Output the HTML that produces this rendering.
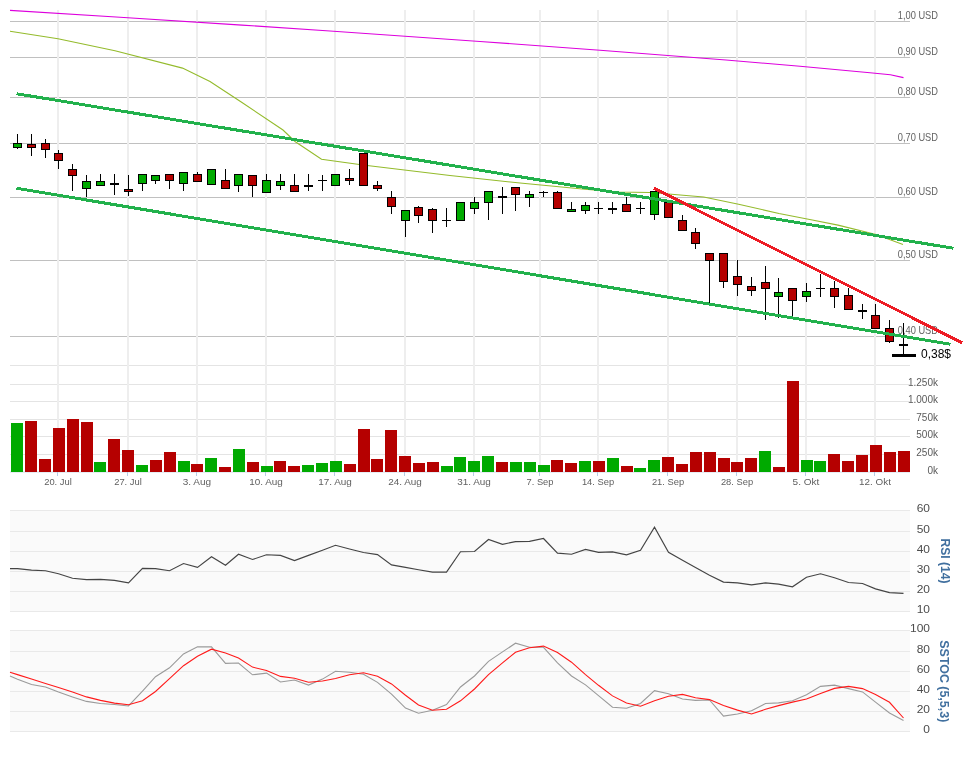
<!DOCTYPE html>
<html lang="de"><head><meta charset="utf-8"><title>Chart</title>
<style>html,body{margin:0;padding:0;background:#fff}body{width:968px;height:765px;overflow:hidden}svg{display:block}text{font-family:"Liberation Sans",Arial,sans-serif}</style></head><body>
<svg width="968" height="765" viewBox="0 0 968 765">
<rect width="968" height="765" fill="#fff"/>
<rect x="10" y="510" width="900" height="102" fill="#fafafa"/>
<rect x="10" y="630" width="900" height="102" fill="#fafafa"/>
<g stroke="#c0c0c0" stroke-width="1" shape-rendering="crispEdges">
<line x1="10" x2="910" y1="21.5" y2="21.5"/>
<line x1="10" x2="910" y1="57.5" y2="57.5"/>
<line x1="10" x2="910" y1="97.5" y2="97.5"/>
<line x1="10" x2="910" y1="143.5" y2="143.5"/>
<line x1="10" x2="910" y1="197.5" y2="197.5"/>
<line x1="10" x2="910" y1="260.5" y2="260.5"/>
<line x1="10" x2="910" y1="336.5" y2="336.5"/>
</g>
<g stroke="#e4e4e4" stroke-width="1" shape-rendering="crispEdges">
<line x1="10" x2="910" y1="365.5" y2="365.5"/>
<line x1="10" x2="910" y1="384.5" y2="384.5"/>
<line x1="10" x2="910" y1="401.5" y2="401.5"/>
<line x1="10" x2="910" y1="419.5" y2="419.5"/>
<line x1="10" x2="910" y1="436.5" y2="436.5"/>
<line x1="10" x2="910" y1="454.5" y2="454.5"/>
</g>
<g stroke="#e9e9e9" stroke-width="1" shape-rendering="crispEdges">
<line x1="10" x2="910" y1="510.5" y2="510.5"/>
<line x1="10" x2="910" y1="531.5" y2="531.5"/>
<line x1="10" x2="910" y1="551.5" y2="551.5"/>
<line x1="10" x2="910" y1="571.5" y2="571.5"/>
<line x1="10" x2="910" y1="591.5" y2="591.5"/>
<line x1="10" x2="910" y1="611.5" y2="611.5"/>
<line x1="10" x2="910" y1="630.5" y2="630.5"/>
<line x1="10" x2="910" y1="651.5" y2="651.5"/>
<line x1="10" x2="910" y1="671.5" y2="671.5"/>
<line x1="10" x2="910" y1="691.5" y2="691.5"/>
<line x1="10" x2="910" y1="711.5" y2="711.5"/>
<line x1="10" x2="910" y1="731.5" y2="731.5"/>
</g>
<g fill="#eeeeee">
<rect x="57" y="10" width="2" height="462"/>
<rect x="127" y="10" width="2" height="462"/>
<rect x="196" y="10" width="2" height="462"/>
<rect x="265" y="10" width="2" height="462"/>
<rect x="334" y="10" width="2" height="462"/>
<rect x="404" y="10" width="2" height="462"/>
<rect x="473" y="10" width="2" height="462"/>
<rect x="539" y="10" width="2" height="462"/>
<rect x="597" y="10" width="2" height="462"/>
<rect x="667" y="10" width="2" height="462"/>
<rect x="736" y="10" width="2" height="462"/>
<rect x="805" y="10" width="2" height="462"/>
<rect x="874" y="10" width="2" height="462"/>
</g>
<line x1="10" x2="910" y1="472" y2="472" stroke="#c0d0e0" stroke-width="1" opacity="0.8"/>
<g stroke="#b4cbe6" stroke-width="1">
<line x1="57.5" x2="57.5" y1="472" y2="476"/>
<line x1="127.5" x2="127.5" y1="472" y2="476"/>
<line x1="196.5" x2="196.5" y1="472" y2="476"/>
<line x1="265.5" x2="265.5" y1="472" y2="476"/>
<line x1="334.5" x2="334.5" y1="472" y2="476"/>
<line x1="404.5" x2="404.5" y1="472" y2="476"/>
<line x1="473.5" x2="473.5" y1="472" y2="476"/>
<line x1="539.5" x2="539.5" y1="472" y2="476"/>
<line x1="597.5" x2="597.5" y1="472" y2="476"/>
<line x1="667.5" x2="667.5" y1="472" y2="476"/>
<line x1="736.5" x2="736.5" y1="472" y2="476"/>
<line x1="805.5" x2="805.5" y1="472" y2="476"/>
<line x1="874.5" x2="874.5" y1="472" y2="476"/>
</g>
<g font-size="10.3" fill="#626262" text-anchor="end">
<text x="938" y="18.7" textLength="40.2" lengthAdjust="spacingAndGlyphs">1,00 USD</text>
<text x="938" y="54.7" textLength="40.2" lengthAdjust="spacingAndGlyphs">0,90 USD</text>
<text x="938" y="94.7" textLength="40.2" lengthAdjust="spacingAndGlyphs">0,80 USD</text>
<text x="938" y="140.7" textLength="40.2" lengthAdjust="spacingAndGlyphs">0,70 USD</text>
<text x="938" y="194.7" textLength="40.2" lengthAdjust="spacingAndGlyphs">0,60 USD</text>
<text x="938" y="257.7" textLength="40.2" lengthAdjust="spacingAndGlyphs">0,50 USD</text>
<text x="938" y="333.7" textLength="40.2" lengthAdjust="spacingAndGlyphs">0,40 USD</text>
</g>
<rect x="11" y="423" width="12" height="49" fill="#00aa00"/>
<rect x="25" y="421" width="12" height="51" fill="#b50000"/>
<rect x="39" y="459" width="12" height="13" fill="#b50000"/>
<rect x="53" y="428" width="12" height="44" fill="#b50000"/>
<rect x="67" y="419" width="12" height="53" fill="#b50000"/>
<rect x="81" y="422" width="12" height="50" fill="#b50000"/>
<rect x="94" y="462" width="12" height="10" fill="#00aa00"/>
<rect x="108" y="439" width="12" height="33" fill="#b50000"/>
<rect x="122" y="450" width="12" height="22" fill="#b50000"/>
<rect x="136" y="465" width="12" height="7" fill="#00aa00"/>
<rect x="150" y="460" width="12" height="12" fill="#b50000"/>
<rect x="164" y="452" width="12" height="20" fill="#b50000"/>
<rect x="178" y="461" width="12" height="11" fill="#00aa00"/>
<rect x="191" y="464" width="12" height="8" fill="#b50000"/>
<rect x="205" y="458" width="12" height="14" fill="#00aa00"/>
<rect x="219" y="467" width="12" height="5" fill="#b50000"/>
<rect x="233" y="449" width="12" height="23" fill="#00aa00"/>
<rect x="247" y="462" width="12" height="10" fill="#b50000"/>
<rect x="261" y="466" width="12" height="6" fill="#00aa00"/>
<rect x="274" y="461" width="12" height="11" fill="#b50000"/>
<rect x="288" y="466" width="12" height="6" fill="#b50000"/>
<rect x="302" y="465" width="12" height="7" fill="#00aa00"/>
<rect x="316" y="463" width="12" height="9" fill="#00aa00"/>
<rect x="330" y="461" width="12" height="11" fill="#00aa00"/>
<rect x="344" y="464" width="12" height="8" fill="#b50000"/>
<rect x="358" y="429" width="12" height="43" fill="#b50000"/>
<rect x="371" y="459" width="12" height="13" fill="#b50000"/>
<rect x="385" y="430" width="12" height="42" fill="#b50000"/>
<rect x="399" y="456" width="12" height="16" fill="#b50000"/>
<rect x="413" y="463" width="12" height="9" fill="#b50000"/>
<rect x="427" y="462" width="12" height="10" fill="#b50000"/>
<rect x="441" y="466" width="12" height="6" fill="#00aa00"/>
<rect x="454" y="457" width="12" height="15" fill="#00aa00"/>
<rect x="468" y="461" width="12" height="11" fill="#00aa00"/>
<rect x="482" y="456" width="12" height="16" fill="#00aa00"/>
<rect x="496" y="462" width="12" height="10" fill="#b50000"/>
<rect x="510" y="462" width="12" height="10" fill="#00aa00"/>
<rect x="524" y="462" width="12" height="10" fill="#00aa00"/>
<rect x="538" y="465" width="12" height="7" fill="#00aa00"/>
<rect x="551" y="460" width="12" height="12" fill="#b50000"/>
<rect x="565" y="463" width="12" height="9" fill="#b50000"/>
<rect x="579" y="461" width="12" height="11" fill="#00aa00"/>
<rect x="593" y="461" width="12" height="11" fill="#b50000"/>
<rect x="607" y="458" width="12" height="14" fill="#00aa00"/>
<rect x="621" y="466" width="12" height="6" fill="#b50000"/>
<rect x="634" y="468" width="12" height="4" fill="#00aa00"/>
<rect x="648" y="460" width="12" height="12" fill="#00aa00"/>
<rect x="662" y="457" width="12" height="15" fill="#b50000"/>
<rect x="676" y="464" width="12" height="8" fill="#b50000"/>
<rect x="690" y="452" width="12" height="20" fill="#b50000"/>
<rect x="704" y="452" width="12" height="20" fill="#b50000"/>
<rect x="718" y="458" width="12" height="14" fill="#b50000"/>
<rect x="731" y="462" width="12" height="10" fill="#b50000"/>
<rect x="745" y="458" width="12" height="14" fill="#b50000"/>
<rect x="759" y="451" width="12" height="21" fill="#00aa00"/>
<rect x="773" y="467" width="12" height="5" fill="#b50000"/>
<rect x="787" y="381" width="12" height="91" fill="#b50000"/>
<rect x="801" y="460" width="12" height="12" fill="#00aa00"/>
<rect x="814" y="461" width="12" height="11" fill="#00aa00"/>
<rect x="828" y="454" width="12" height="18" fill="#b50000"/>
<rect x="842" y="461" width="12" height="11" fill="#b50000"/>
<rect x="856" y="455" width="12" height="17" fill="#b50000"/>
<rect x="870" y="445" width="12" height="27" fill="#b50000"/>
<rect x="884" y="452" width="12" height="20" fill="#b50000"/>
<rect x="898" y="451" width="12" height="21" fill="#b50000"/>
<polyline fill="none" stroke="#94bb2c" stroke-width="1.1" points="10,31.3 58,38.8 115,50.7 182.5,68.1 210,81.5 242,102.5 283,130 295,141.5 321.5,159.2 363,165 450,175.5 520,183 585,189.3 618,192 650,192.5 668.5,194 703.7,197 738.6,204.2 779,213.5 811,219.8 838,225.1 876,234.5 903,244.4"/>
<polyline fill="none" stroke="#dd00dd" stroke-width="1.1" points="10,10.4 120,17.3 242,25.1 330,31 480,41.5 600,50.2 726,60 800,66.3 870,72.8 890.4,74.7 903.5,77.6"/>
<g stroke="#000" stroke-width="1" shape-rendering="crispEdges">
<line x1="17.5" x2="17.5" y1="134" y2="149"/>
<rect x="13.5" y="143.5" width="8" height="4" fill="#00aa00"/>
<line x1="31.5" x2="31.5" y1="134" y2="156"/>
<rect x="27.5" y="144.5" width="8" height="3" fill="#b50000"/>
<line x1="45.5" x2="45.5" y1="139" y2="158"/>
<rect x="41.5" y="143.5" width="8" height="6" fill="#b50000"/>
<line x1="58.5" x2="58.5" y1="150" y2="169"/>
<rect x="54.5" y="153.5" width="8" height="7" fill="#b50000"/>
<line x1="72.5" x2="72.5" y1="164" y2="191"/>
<rect x="68.5" y="169.5" width="8" height="6" fill="#b50000"/>
<line x1="86.5" x2="86.5" y1="175" y2="197"/>
<rect x="82.5" y="181.5" width="8" height="7" fill="#00aa00"/>
<line x1="100.5" x2="100.5" y1="174" y2="186"/>
<rect x="96.5" y="181.5" width="8" height="4" fill="#00aa00"/>
<line x1="114.5" x2="114.5" y1="174" y2="195"/>
<rect x="110.0" y="183" width="9" height="2" fill="#000" stroke="none"/>
<line x1="128.5" x2="128.5" y1="175" y2="196"/>
<rect x="124.5" y="189.5" width="8" height="2" fill="#b50000"/>
<line x1="142.5" x2="142.5" y1="174" y2="191"/>
<rect x="138.5" y="174.5" width="8" height="9" fill="#00aa00"/>
<line x1="155.5" x2="155.5" y1="175" y2="184"/>
<rect x="151.5" y="175.5" width="8" height="5" fill="#00aa00"/>
<line x1="169.5" x2="169.5" y1="174" y2="189"/>
<rect x="165.5" y="174.5" width="8" height="6" fill="#b50000"/>
<line x1="183.5" x2="183.5" y1="172" y2="191"/>
<rect x="179.5" y="172.5" width="8" height="11" fill="#00aa00"/>
<line x1="197.5" x2="197.5" y1="172" y2="182"/>
<rect x="193.5" y="174.5" width="8" height="7" fill="#b50000"/>
<line x1="211.5" x2="211.5" y1="169" y2="185"/>
<rect x="207.5" y="169.5" width="8" height="15" fill="#00aa00"/>
<line x1="225.5" x2="225.5" y1="169" y2="189"/>
<rect x="221.5" y="180.5" width="8" height="8" fill="#b50000"/>
<line x1="238.5" x2="238.5" y1="174" y2="192"/>
<rect x="234.5" y="174.5" width="8" height="11" fill="#00aa00"/>
<line x1="252.5" x2="252.5" y1="175" y2="197"/>
<rect x="248.5" y="175.5" width="8" height="10" fill="#b50000"/>
<line x1="266.5" x2="266.5" y1="174" y2="193"/>
<rect x="262.5" y="180.5" width="8" height="12" fill="#00aa00"/>
<line x1="280.5" x2="280.5" y1="174" y2="190"/>
<rect x="276.5" y="181.5" width="8" height="4" fill="#00aa00"/>
<line x1="294.5" x2="294.5" y1="174" y2="192"/>
<rect x="290.5" y="185.5" width="8" height="6" fill="#b50000"/>
<line x1="308.5" x2="308.5" y1="174" y2="191"/>
<rect x="304.0" y="185" width="9" height="2" fill="#000" stroke="none"/>
<line x1="322.5" x2="322.5" y1="175" y2="191"/>
<line x1="318.0" x2="327.0" y1="180.5" y2="180.5"/>
<line x1="335.5" x2="335.5" y1="174" y2="186"/>
<rect x="331.5" y="174.5" width="8" height="11" fill="#00aa00"/>
<line x1="349.5" x2="349.5" y1="169" y2="185"/>
<rect x="345.5" y="178.5" width="8" height="2" fill="#b50000"/>
<line x1="363.5" x2="363.5" y1="153" y2="186"/>
<rect x="359.5" y="153.5" width="8" height="32" fill="#b50000"/>
<line x1="377.5" x2="377.5" y1="181" y2="191"/>
<rect x="373.5" y="185.5" width="8" height="3" fill="#b50000"/>
<line x1="391.5" x2="391.5" y1="191" y2="214"/>
<rect x="387.5" y="197.5" width="8" height="9" fill="#b50000"/>
<line x1="405.5" x2="405.5" y1="210" y2="237"/>
<rect x="401.5" y="210.5" width="8" height="10" fill="#00aa00"/>
<line x1="418.5" x2="418.5" y1="206" y2="223"/>
<rect x="414.5" y="207.5" width="8" height="8" fill="#b50000"/>
<line x1="432.5" x2="432.5" y1="208" y2="233"/>
<rect x="428.5" y="209.5" width="8" height="11" fill="#b50000"/>
<line x1="446.5" x2="446.5" y1="208" y2="227"/>
<line x1="442.0" x2="451.0" y1="220.5" y2="220.5"/>
<line x1="460.5" x2="460.5" y1="202" y2="221"/>
<rect x="456.5" y="202.5" width="8" height="18" fill="#00aa00"/>
<line x1="474.5" x2="474.5" y1="197" y2="214"/>
<rect x="470.5" y="202.5" width="8" height="6" fill="#00aa00"/>
<line x1="488.5" x2="488.5" y1="191" y2="220"/>
<rect x="484.5" y="191.5" width="8" height="11" fill="#00aa00"/>
<line x1="502.5" x2="502.5" y1="187" y2="214"/>
<rect x="498.0" y="196" width="9" height="2" fill="#000" stroke="none"/>
<line x1="515.5" x2="515.5" y1="187" y2="211"/>
<rect x="511.5" y="187.5" width="8" height="7" fill="#b50000"/>
<line x1="529.5" x2="529.5" y1="191" y2="207"/>
<rect x="525.5" y="194.5" width="8" height="3" fill="#00aa00"/>
<line x1="543.5" x2="543.5" y1="191" y2="197"/>
<line x1="539.0" x2="548.0" y1="192.5" y2="192.5"/>
<line x1="557.5" x2="557.5" y1="191" y2="209"/>
<rect x="553.5" y="192.5" width="8" height="16" fill="#b50000"/>
<line x1="571.5" x2="571.5" y1="202" y2="212"/>
<rect x="567.5" y="209.5" width="8" height="2" fill="#00aa00"/>
<line x1="585.5" x2="585.5" y1="202" y2="214"/>
<rect x="581.5" y="205.5" width="8" height="5" fill="#00aa00"/>
<line x1="598.5" x2="598.5" y1="202" y2="214"/>
<line x1="594.0" x2="603.0" y1="208.5" y2="208.5"/>
<line x1="612.5" x2="612.5" y1="202" y2="214"/>
<rect x="608.0" y="208" width="9" height="2" fill="#000" stroke="none"/>
<line x1="626.5" x2="626.5" y1="197" y2="212"/>
<rect x="622.5" y="204.5" width="8" height="7" fill="#b50000"/>
<line x1="640.5" x2="640.5" y1="202" y2="214"/>
<line x1="636.0" x2="645.0" y1="208.5" y2="208.5"/>
<line x1="654.5" x2="654.5" y1="191" y2="220"/>
<rect x="650.5" y="191.5" width="8" height="23" fill="#00aa00"/>
<line x1="668.5" x2="668.5" y1="202" y2="218"/>
<rect x="664.5" y="202.5" width="8" height="15" fill="#b50000"/>
<line x1="682.5" x2="682.5" y1="215" y2="231"/>
<rect x="678.5" y="220.5" width="8" height="10" fill="#b50000"/>
<line x1="695.5" x2="695.5" y1="228" y2="249"/>
<rect x="691.5" y="232.5" width="8" height="11" fill="#b50000"/>
<line x1="709.5" x2="709.5" y1="253" y2="303"/>
<rect x="705.5" y="253.5" width="8" height="7" fill="#b50000"/>
<line x1="723.5" x2="723.5" y1="253" y2="288"/>
<rect x="719.5" y="253.5" width="8" height="28" fill="#b50000"/>
<line x1="737.5" x2="737.5" y1="260" y2="296"/>
<rect x="733.5" y="276.5" width="8" height="8" fill="#b50000"/>
<line x1="751.5" x2="751.5" y1="277" y2="296"/>
<rect x="747.5" y="286.5" width="8" height="4" fill="#b50000"/>
<line x1="765.5" x2="765.5" y1="266" y2="320"/>
<rect x="761.5" y="282.5" width="8" height="6" fill="#b50000"/>
<line x1="778.5" x2="778.5" y1="278" y2="318"/>
<rect x="774.5" y="292.5" width="8" height="4" fill="#00aa00"/>
<line x1="792.5" x2="792.5" y1="288" y2="317"/>
<rect x="788.5" y="288.5" width="8" height="12" fill="#b50000"/>
<line x1="806.5" x2="806.5" y1="283" y2="302"/>
<rect x="802.5" y="291.5" width="8" height="5" fill="#00aa00"/>
<line x1="820.5" x2="820.5" y1="274" y2="297"/>
<line x1="816.0" x2="825.0" y1="288.5" y2="288.5"/>
<line x1="834.5" x2="834.5" y1="281" y2="308"/>
<rect x="830.5" y="288.5" width="8" height="8" fill="#b50000"/>
<line x1="848.5" x2="848.5" y1="288" y2="310"/>
<rect x="844.5" y="295.5" width="8" height="14" fill="#b50000"/>
<line x1="862.5" x2="862.5" y1="304" y2="319"/>
<rect x="858.0" y="310" width="9" height="2" fill="#000" stroke="none"/>
<line x1="875.5" x2="875.5" y1="304" y2="329"/>
<rect x="871.5" y="315.5" width="8" height="13" fill="#b50000"/>
<line x1="889.5" x2="889.5" y1="320" y2="343"/>
<rect x="885.5" y="328.5" width="8" height="13" fill="#b50000"/>
<line x1="903.5" x2="903.5" y1="323" y2="355"/>
<rect x="899.0" y="344" width="9" height="2" fill="#000" stroke="none"/>
</g>
<g stroke="#22b14c" stroke-width="3" stroke-linecap="butt" shape-rendering="crispEdges">
<line x1="16.5" y1="93.7" x2="953.5" y2="248.3"/>
<line x1="16.5" y1="188.3" x2="950.5" y2="344.3"/>
</g>
<line x1="654" y1="188.4" x2="962" y2="342.6" stroke="#ed1c24" stroke-width="3" shape-rendering="crispEdges"/>
<rect x="892" y="354" width="24" height="3" fill="#000"/>
<text x="921" y="358" font-size="12" fill="#000">0,38$</text>
<g font-size="10" fill="#5a5a5a" text-anchor="end">
<text x="938" y="385.7">1.250k</text>
<text x="938" y="402.7">1.000k</text>
<text x="938" y="420.7">750k</text>
<text x="938" y="437.7">500k</text>
<text x="938" y="455.7">250k</text>
<text x="938" y="473.7">0k</text>
</g>
<g font-size="9.8" fill="#606060" text-anchor="middle">
<text x="58" y="484.8" textLength="27.6" lengthAdjust="spacingAndGlyphs">20. Jul</text>
<text x="128" y="484.8" textLength="27.6" lengthAdjust="spacingAndGlyphs">27. Jul</text>
<text x="197" y="484.8" textLength="28.4" lengthAdjust="spacingAndGlyphs">3. Aug</text>
<text x="266" y="484.8" textLength="33.7" lengthAdjust="spacingAndGlyphs">10. Aug</text>
<text x="335" y="484.8" textLength="33.7" lengthAdjust="spacingAndGlyphs">17. Aug</text>
<text x="405" y="484.8" textLength="33.7" lengthAdjust="spacingAndGlyphs">24. Aug</text>
<text x="474" y="484.8" textLength="33.7" lengthAdjust="spacingAndGlyphs">31. Aug</text>
<text x="540" y="484.8" textLength="26.9" lengthAdjust="spacingAndGlyphs">7. Sep</text>
<text x="598" y="484.8" textLength="32.2" lengthAdjust="spacingAndGlyphs">14. Sep</text>
<text x="668" y="484.8" textLength="32.2" lengthAdjust="spacingAndGlyphs">21. Sep</text>
<text x="737" y="484.8" textLength="32.2" lengthAdjust="spacingAndGlyphs">28. Sep</text>
<text x="806" y="484.8" textLength="26.8" lengthAdjust="spacingAndGlyphs">5. Okt</text>
<text x="875" y="484.8" textLength="31.8" lengthAdjust="spacingAndGlyphs">12. Okt</text>
</g>
<polyline fill="none" stroke="#444" stroke-width="1.15" points="10,568.6 17.5,568.6 31.5,570.1 45.5,570.7 58.5,573.8 72.5,578.3 86.5,579.6 100.5,579.4 114.5,580.4 128.5,582.9 142.5,568.4 155.5,568.6 169.5,570.7 183.5,563.5 197.5,567.4 211.5,556.7 225.5,565.3 238.5,554.2 252.5,559.5 266.5,554.8 280.5,555.4 294.5,560.6 308.5,555.4 322.5,550.2 335.5,545.3 349.5,549 363.5,552.5 377.5,554.6 391.5,564.9 405.5,567.4 418.5,569.7 432.5,572.1 446.5,572.1 460.5,551.7 474.5,551.5 488.5,539.5 502.5,544.3 515.5,541.6 529.5,541.4 543.5,538.5 557.5,553.1 571.5,554.2 585.5,549.4 598.5,552.3 612.5,551.9 626.5,554.8 640.5,550.2 654.5,527.1 668.5,552.3 682.5,560.2 695.5,567.6 709.5,575.2 723.5,582.1 737.5,582.9 751.5,584.8 765.5,582.9 778.5,584.1 792.5,586.8 806.5,577.3 820.5,573.8 834.5,577.7 848.5,582.5 862.5,583.5 875.5,588.9 889.5,592.6 903.5,593.4"/>
<polyline fill="none" stroke="#9a9a9a" stroke-width="1.1" points="10,676 17.5,679.3 31.5,684.5 45.5,687 58.5,692.1 72.5,696.9 86.5,701.4 100.5,703.5 114.5,704.5 128.5,706 142.5,691.1 155.5,676.7 169.5,667.8 183.5,653.9 197.5,646.8 211.5,646.9 225.5,663.4 238.5,663 252.5,674.8 266.5,673.1 280.5,682 294.5,680 308.5,685.1 322.5,679.1 335.5,671.3 349.5,672.3 363.5,674.2 377.5,682.4 391.5,694.2 405.5,708.1 418.5,713.2 432.5,710.3 446.5,704.5 460.5,687 474.5,676 488.5,661.4 502.5,651.9 515.5,643.2 529.5,647.3 543.5,647.3 557.5,662.8 571.5,676 585.5,684.9 598.5,695.7 612.5,707.2 626.5,708.3 640.5,703.5 654.5,690.7 668.5,693.8 682.5,699 695.5,700.4 709.5,700 723.5,716.1 737.5,714 751.5,710.7 765.5,703.5 778.5,702.9 792.5,700.8 806.5,694.8 820.5,686.4 834.5,685.1 848.5,688.6 862.5,691.9 875.5,702.1 889.5,713 903.5,720.5"/>
<polyline fill="none" stroke="#ff1a1a" stroke-width="1.1" points="10,672.3 17.5,674.6 31.5,679.1 45.5,683.5 58.5,687.6 72.5,692.1 86.5,696.9 100.5,700.4 114.5,703.1 128.5,704.8 142.5,700.8 155.5,691.5 169.5,678.7 183.5,665.7 197.5,656.2 211.5,649.2 225.5,652.9 238.5,658.1 252.5,667.1 266.5,670.5 280.5,676.4 294.5,678.3 308.5,682.2 322.5,681 335.5,678.5 349.5,674.8 363.5,672.7 377.5,676.2 391.5,683.9 405.5,695.2 418.5,705 432.5,710.3 446.5,709.3 460.5,700.8 474.5,689 488.5,674.6 502.5,662.8 515.5,652.3 529.5,647.7 543.5,646.1 557.5,652.5 571.5,662.2 585.5,674.6 598.5,685.3 612.5,695.9 626.5,703.1 640.5,706.2 654.5,700.8 668.5,696.3 682.5,694.4 695.5,697.7 709.5,699.6 723.5,705.4 737.5,710.1 751.5,714 765.5,709.3 778.5,705.6 792.5,702.1 806.5,699 820.5,693.4 834.5,688.4 848.5,686.4 862.5,688.6 875.5,694.4 889.5,702.3 903.5,718"/>
<g font-size="11" fill="#4d4d4d" text-anchor="end">
<text transform="translate(930,511.5) scale(1.09,1)">60</text>
<text transform="translate(930,532.5) scale(1.09,1)">50</text>
<text transform="translate(930,552.5) scale(1.09,1)">40</text>
<text transform="translate(930,572.5) scale(1.09,1)">30</text>
<text transform="translate(930,592.5) scale(1.09,1)">20</text>
<text transform="translate(930,612.5) scale(1.09,1)">10</text>
<text transform="translate(930,631.5) scale(1.09,1)">100</text>
<text transform="translate(930,652.5) scale(1.09,1)">80</text>
<text transform="translate(930,672.5) scale(1.09,1)">60</text>
<text transform="translate(930,692.5) scale(1.09,1)">40</text>
<text transform="translate(930,712.5) scale(1.09,1)">20</text>
<text transform="translate(930,732.5) scale(1.09,1)">0</text>
</g>
<g font-size="12" font-weight="bold" fill="#41709f" text-anchor="middle">
<text transform="translate(940.5,561) rotate(90)" textLength="45" lengthAdjust="spacingAndGlyphs">RSI (14)</text>
<text transform="translate(940,681.3) rotate(90)" textLength="82" lengthAdjust="spacingAndGlyphs">SSTOC (5,5,3)</text>
</g>
</svg></body></html>
